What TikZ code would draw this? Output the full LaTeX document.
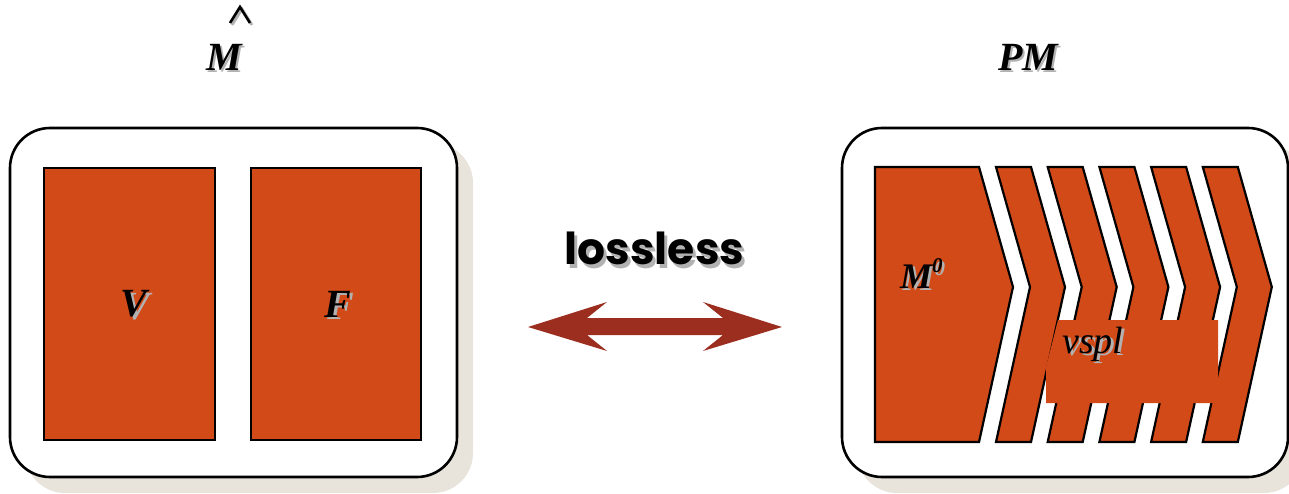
\documentclass[tikz,border=0pt]{standalone}
\usepackage{fontspec}
\setmainfont{Liberation Serif}
\newfontfamily\lossfont{Poppins}
\definecolor{mesh}{HTML}{D14A18}
\definecolor{arrowred}{HTML}{9C2E20}
\definecolor{shadowgray}{HTML}{E8E4DC}
\tikzset{
  outerbox/.style={draw=black, line width=2.6pt, fill=white, rounded corners=40pt},
  boxshadow/.style={fill=shadowgray, rounded corners=40pt},
  part/.style={draw=black, line width=2.2pt, fill=mesh},
  titletext/.style={font=\fontsize{40}{42}\selectfont\bfseries\itshape, inner sep=0pt},
  labeltext/.style={font=\fontsize{40}{42}\selectfont\bfseries\itshape, inner sep=0pt},
  losstext/.style={font=\fontsize{44}{46}\selectfont\lossfont\bfseries, inner sep=0pt},
  txtshadow/.style={text=black!30},
}
\begin{document}
\begin{tikzpicture}[x=1pt,y=-1pt]
\useasboundingbox (0,0) rectangle (1289,494);
% ---------- left box (M hat) ----------
\fill[boxshadow] (25,143) rectangle (473,493);
\draw[outerbox] (10,128) rectangle (457,477);
\draw[part] (44,168) rectangle (215,440);
\draw[part] (251,168) rectangle (421,440);
\node[labeltext, txtshadow] at (136.5,306.5) {V};
\node[labeltext] (V) at (134,304) {V};
\node[labeltext, txtshadow] at (340.5,306.5) {F};
\node[labeltext] (F) at (338,304) {F};
% title M hat
\node[titletext, txtshadow] at (226.5,59.5) {M};
\node[titletext] (Mhat) at (224,57) {M};
\draw[black!30, line width=2.8pt] (232,25) -- (242,9) -- (252,25);
\draw[black, line width=2.6pt] (230,23) -- (240,7) -- (250,23);
% ---------- right box (PM) ----------
\fill[boxshadow] (857,143) rectangle (1304,493);
\draw[outerbox] (842,128) rectangle (1288,477);
\draw[part] (875,167) -- (979,167) -- (1013,287) -- (979,442) -- (875,442) -- cycle;
\foreach \k in {0,...,4}{
  \pgfmathsetmacro{\tl}{996+51.7*\k}
  \draw[part] (\tl,167) -- (\tl+35,167) -- (\tl+69,287) -- (\tl+35,442)
     -- (\tl,442) -- (\tl+34,287) -- cycle;
}
\fill[mesh] (1046,403) -- (1046,367) -- (1058,320) -- (1218,320) -- (1218,403) -- cycle;
% M^0 label
\node[labeltext, txtshadow, anchor=base west, font=\fontsize{36}{38}\selectfont\bfseries\itshape] at (902.5,290.5) {M\raisebox{0.42em}{\fontsize{21}{21}\selectfont 0}};
\node[labeltext, anchor=base west, font=\fontsize{36}{38}\selectfont\bfseries\itshape] (M0) at (900,288) {M\raisebox{0.42em}{\fontsize{21}{21}\selectfont 0}};
% vspl label
\node[txtshadow, inner sep=0pt, anchor=base west, font=\fontsize{38}{40}\selectfont\itshape] at (1065,355) {vspl};
\node[inner sep=0pt, anchor=base west, font=\fontsize{38}{40}\selectfont\itshape] (vspl) at (1062,353) {vspl};
% title PM
\node[titletext, txtshadow] at (1030.5,59.5) {PM};
\node[titletext] (PM) at (1028,57) {PM};
% ---------- lossless arrow ----------
\node[losstext, txtshadow, anchor=base] at (657.5,268) {lossless};
\node[losstext, anchor=base] (loss) at (654.5,265) {lossless};
\coordinate (aL) at (528,327);
\coordinate (aR) at (782,327);
\fill[arrowred] (aL) -- (607,302) -- (587,318) -- (723,318) -- (703,302) -- (aR)
  -- (703,351) -- (723,335) -- (587,335) -- (607,351) -- cycle;
\end{tikzpicture}
\end{document}
